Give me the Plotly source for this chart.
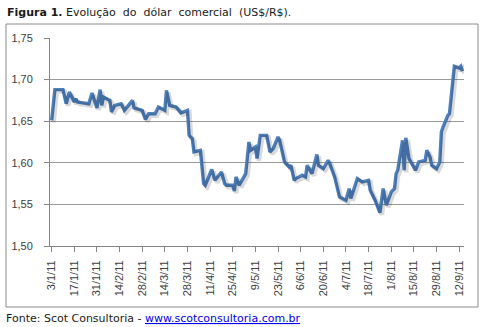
import plotly.graph_objects as go
from datetime import datetime, timedelta

# ---- data ----
dates = [
    "2011-01-03", "2011-01-05", "2011-01-10", "2011-01-12", "2011-01-14", "2011-01-17",
    "2011-01-18", "2011-01-19", "2011-01-26", "2011-01-28", "2011-01-31", "2011-02-02",
    "2011-02-03", "2011-02-04", "2011-02-08", "2011-02-09", "2011-02-11", "2011-02-15",
    "2011-02-17", "2011-02-22", "2011-02-23", "2011-02-28", "2011-03-02", "2011-03-04",
    "2011-03-08", "2011-03-10", "2011-03-14", "2011-03-15", "2011-03-17", "2011-03-21",
    "2011-03-24", "2011-03-28", "2011-03-29", "2011-03-31", "2011-04-01", "2011-04-05",
    "2011-04-07", "2011-04-08", "2011-04-12", "2011-04-14", "2011-04-18", "2011-04-20",
    "2011-04-21", "2011-04-25", "2011-04-26", "2011-04-27", "2011-04-29", "2011-05-03",
    "2011-05-05", "2011-05-06", "2011-05-09", "2011-05-10", "2011-05-12", "2011-05-16",
    "2011-05-18", "2011-05-20", "2011-05-23", "2011-05-24", "2011-05-27", "2011-05-30",
    "2011-05-31", "2011-06-02", "2011-06-03", "2011-06-07", "2011-06-09", "2011-06-10",
    "2011-06-13", "2011-06-16", "2011-06-17", "2011-06-20", "2011-06-23", "2011-06-24",
    "2011-06-27", "2011-06-30", "2011-07-04", "2011-07-06", "2011-07-07", "2011-07-11",
    "2011-07-14", "2011-07-18", "2011-07-19", "2011-07-22", "2011-07-25", "2011-07-27",
    "2011-07-29", "2011-08-01", "2011-08-03", "2011-08-04", "2011-08-05", "2011-08-08",
    "2011-08-09", "2011-08-10", "2011-08-12", "2011-08-16", "2011-08-18", "2011-08-22",
    "2011-08-23", "2011-08-25", "2011-08-26", "2011-08-29", "2011-08-31", "2011-09-01",
    "2011-09-02", "2011-09-05", "2011-09-06", "2011-09-09", "2011-09-12", "2011-09-13",
    "2011-09-14",
]
dolar = [
    1.651, 1.688, 1.688, 1.671, 1.685, 1.673,
    1.677, 1.673, 1.671, 1.684, 1.666, 1.688,
    1.669, 1.679, 1.675, 1.661, 1.669, 1.671,
    1.663, 1.675, 1.666, 1.663, 1.652, 1.659,
    1.659, 1.667, 1.663, 1.687, 1.669, 1.667,
    1.660, 1.663, 1.633, 1.629, 1.613, 1.615,
    1.575, 1.573, 1.592, 1.579, 1.589, 1.575,
    1.573, 1.573, 1.566, 1.583, 1.573, 1.587,
    1.625, 1.615, 1.619, 1.605, 1.633, 1.633,
    1.613, 1.617, 1.631, 1.627, 1.601, 1.595,
    1.597, 1.579, 1.581, 1.585, 1.583, 1.597,
    1.587, 1.610, 1.597, 1.593, 1.603, 1.599,
    1.583, 1.559, 1.555, 1.569, 1.557, 1.581,
    1.577, 1.579, 1.567, 1.555, 1.540, 1.569,
    1.549, 1.565, 1.569, 1.587, 1.591, 1.627,
    1.591, 1.630, 1.605, 1.591, 1.601, 1.603,
    1.615, 1.607, 1.597, 1.593, 1.601, 1.637,
    1.643, 1.657, 1.659, 1.716, 1.714, 1.716,
    1.710,
]
tick_dates = [
    "2011-01-03", "2011-01-17", "2011-01-31", "2011-02-14", "2011-02-28", "2011-03-14",
    "2011-03-28", "2011-04-11", "2011-04-25", "2011-05-09", "2011-05-23", "2011-06-06",
    "2011-06-20", "2011-07-04", "2011-07-18", "2011-08-01", "2011-08-15", "2011-08-29",
    "2011-09-12",
]
tick_labels = [
    "3/1/11", "17/1/11", "31/1/11", "14/2/11", "28/2/11", "14/3/11",
    "28/3/11", "11/4/11", "25/4/11", "9/5/11", "23/5/11", "6/6/11",
    "20/6/11", "4/7/11", "18/7/11", "1/8/11", "15/8/11", "29/8/11",
    "12/9/11",
]
y_ticks = [1.50, 1.55, 1.60, 1.65, 1.70, 1.75]

title_text = "<b>Figura 1.</b> Evolução  do  dólar  comercial  (US$/R$)."
source_text = ("Fonte: Scot Consultoria - "
               "<span style='color:#0000EE'><u>www.scotconsultoria.com.br</u></span>")

W, H = 484, 327
L, R, T, B = 50, 20, 38, 81
pw, ph = W - L - R, H - T - B

x0, x1 = datetime(2011, 1, 2), datetime(2011, 9, 15)
y0, y1 = 1.50, 1.75
# shadow offset: ~2 px right / down
dx = timedelta(days=2 * (x1 - x0).days / pw)
dy = 2 * (y1 - y0) / ph


def px_x(p):
    return (p - L) / pw


def px_y(p):
    return (H - B - p) / ph


fig = go.Figure()
fig.add_trace(go.Scatter(
    x=dates, y=dolar, mode="lines", xaxis="x2", yaxis="y2",
    line=dict(color="rgba(0,0,0,0.15)", width=4.5), hoverinfo="skip",
    showlegend=False))
fig.add_trace(go.Scatter(
    x=dates, y=dolar, mode="lines",
    line=dict(color="#4F81BD", width=3.4), showlegend=False))

axis_font = dict(family="Liberation Sans, Arial, sans-serif", size=11, color="#404040")

fig.update_layout(
    width=W, height=H,
    margin=dict(l=L, r=R, t=T, b=B, pad=0),
    paper_bgcolor="white", plot_bgcolor="white",
    separators=",.",
    xaxis=dict(
        type="date", range=[x0, x1],
        tickmode="array", tickvals=tick_dates, ticktext=tick_labels,
        tickangle=-90, tickfont=axis_font, ticklabelstandoff=4,
        ticks="outside", ticklen=5, tickcolor="#868686",
        showline=True, linecolor="#868686", linewidth=1,
        showgrid=False, zeroline=False,
    ),
    yaxis=dict(
        range=[y0, y1], tickmode="array", tickvals=y_ticks, tickformat=".2f",
        tickfont=axis_font, ticklabelstandoff=9,
        ticks="outside", ticklen=5, tickcolor="#868686",
        showline=True, linecolor="#868686", linewidth=1,
        showgrid=True, gridcolor="#9A9A9A", gridwidth=1, zeroline=False,
    ),
    xaxis2=dict(type="date", overlaying="x", visible=False,
                range=[x0 - dx, x1 - dx]),
    yaxis2=dict(overlaying="y", visible=False, range=[y0 + dy, y1 + dy]),
    shapes=[dict(type="rect", xref="paper", yref="paper",
                 x0=px_x(6), x1=px_x(478), y0=px_y(307), y1=px_y(24),
                 line=dict(color="#8C8C8C", width=1), fillcolor="rgba(0,0,0,0)",
                 layer="below")],
    annotations=[
        dict(text=title_text, xref="paper", yref="paper", x=px_x(5), y=px_y(12),
             xanchor="left", yanchor="middle", showarrow=False,
             font=dict(family="DejaVu Sans, sans-serif", size=11, color="#1A1A1A")),
        dict(text=source_text, xref="paper", yref="paper", x=px_x(4), y=px_y(318),
             xanchor="left", yanchor="middle", showarrow=False,
             font=dict(family="DejaVu Sans, sans-serif", size=11, color="#1A1A1A")),
    ],
)

fig.write_html("out.html", config={"displayModeBar": False},
               post_script="document.body.style.margin='0';")
